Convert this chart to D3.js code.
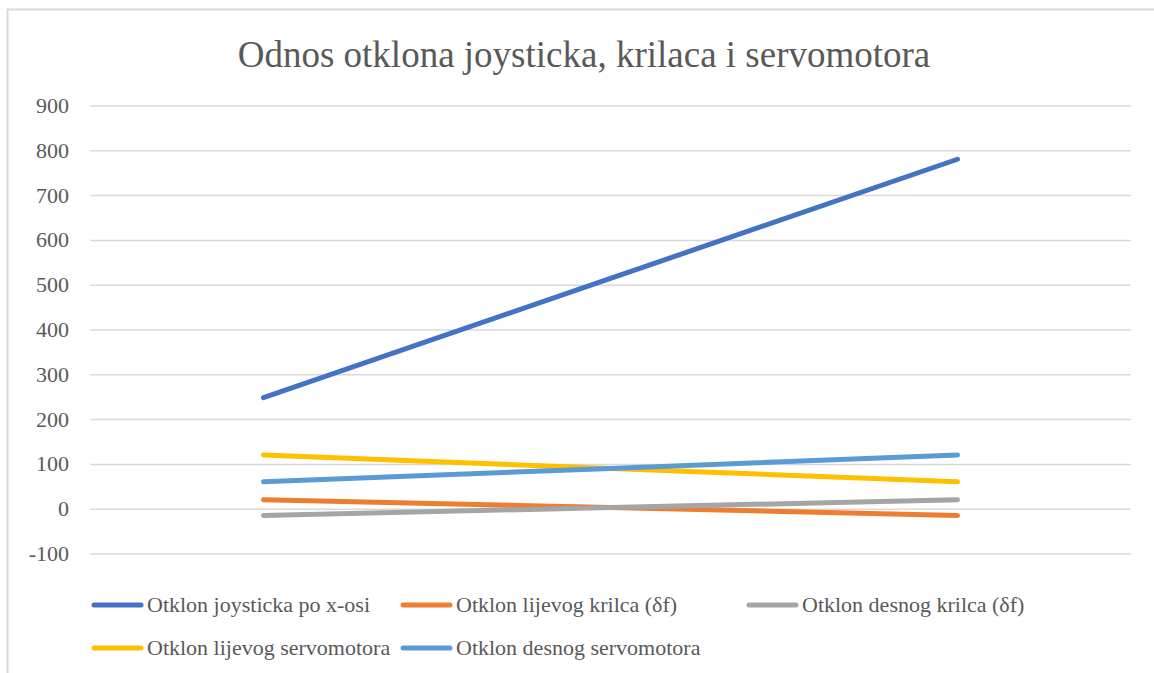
<!DOCTYPE html>
<html>
<head>
<meta charset="utf-8">
<script src="https://cdn.jsdelivr.net/npm/d3@7"></script>
<style>
body { margin: 0; background: #fff; }
text { font-family: "Liberation Serif", "Times New Roman", "DejaVu Serif", serif; fill: #595959; }
</style>
</head>
<body>
<svg id="svg"></svg>
<script>
var width = 1154, height = 673;

var categories = ["1", "2", "3"];
var seriesNames = [
	"Otklon joysticka po x-osi",
	"Otklon lijevog krilca (\u03b4f)",
	"Otklon desnog krilca (\u03b4f)",
	"Otklon lijevog servomotora",
	"Otklon desnog servomotora"
];
var joystick = [248, 514, 780];
var lijevoKrilce = [20, 2.5, -15];
var desnoKrilce = [-15, 2.5, 20];
var lijeviServo = [120, 90, 60];
var desniServo = [60, 90, 120];
var colors = ["#4472c4", "#ed7d31", "#a5a5a5", "#ffc000", "#5b9bd5"];
var yTicks = [-100, 0, 100, 200, 300, 400, 500, 600, 700, 800, 900];

var series = [joystick, lijevoKrilce, desnoKrilce, lijeviServo, desniServo];

var svg = d3.select("#svg")
	.attr("width", width)
	.attr("height", height);

// chart border
svg.append("path")
	.attr("d", "M7.5," + height + "V9.5H" + width)
	.attr("fill", "none")
	.attr("stroke", "#d9d9d9")
	.attr("stroke-width", 2);

svg.append("text")
	.attr("x", 584)
	.attr("y", 67)
	.attr("text-anchor", "middle")
	.style("font-size", "37px")
	.text("Odnos otklona joysticka, krilaca i servomotora");

var x = d3.scaleBand()
	.domain(categories)
	.range([90, 1131]);

var y = d3.scaleLinear()
	.domain([-100, 900])
	.range([553.5, 105.5]);

var yAxis = d3.axisLeft(y)
	.tickValues(yTicks)
	.tickSize(-(1131 - 90))
	.tickFormat(function(d) { return String(d); });

var gy = svg.append("g")
	.attr("transform", "translate(90,0)")
	.call(yAxis);
gy.select(".domain").remove();
gy.selectAll(".tick line")
	.attr("stroke", "#d9d9d9")
	.attr("stroke-width", 1.5);
gy.selectAll(".tick text")
	.attr("x", -21)
	.style("font-size", "22px")
	.style("fill", "#595959");

var line = d3.line()
	.x(function(d, i) { return x(categories[i]) + x.bandwidth() / 2; })
	.y(function(d) { return y(d); });

svg.selectAll(".series")
	.data(series)
	.enter()
	.append("path")
	.attr("class", "series")
	.attr("d", function(d) { return line(d); })
	.attr("fill", "none")
	.attr("stroke", function(d, i) { return colors[i]; })
	.attr("stroke-width", 5)
	.attr("stroke-linecap", "round")
	.attr("stroke-linejoin", "round");

// legend
var legendPos = [[92, 605], [401, 605], [747, 605], [92, 648], [401, 648]];

var item = svg.selectAll(".legend")
	.data(seriesNames)
	.enter()
	.append("g")
	.attr("class", "legend")
	.attr("transform", function(d, i) { return "translate(" + legendPos[i][0] + "," + legendPos[i][1] + ")"; });

item.append("line")
	.attr("x1", 2)
	.attr("x2", 49)
	.attr("y1", 0)
	.attr("y2", 0)
	.attr("stroke", function(d, i) { return colors[i]; })
	.attr("stroke-width", 5)
	.attr("stroke-linecap", "round");

item.append("text")
	.attr("x", 55)
	.attr("y", 7)
	.style("font-size", "22px")
	.text(function(d) { return d; });
</script>
</body>
</html>
